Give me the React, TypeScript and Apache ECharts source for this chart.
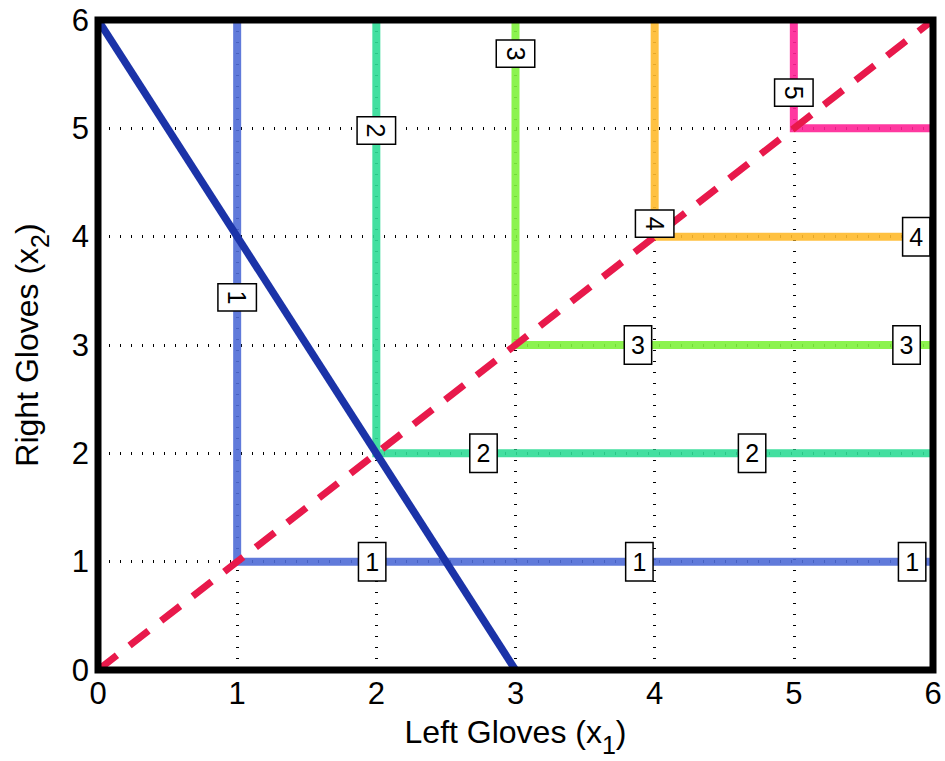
import React, { useEffect, useRef } from "react";
import * as echarts from "echarts";

const xTicks = [0, 1, 2, 3, 4, 5, 6];
const yTicks = [0, 1, 2, 3, 4, 5, 6];
const levels = [1, 2, 3, 4, 5];
const levelColors = ["#4f6bd6", "#2fdb96", "#7ff23c", "#ffba2c", "#ff2496"];
const budgetLine = [
  [0, 6],
  [3, 0],
];
const diagonalLine = [
  [0, 0],
  [6, 6],
];
// labels on the vertical arms: [x, y, text]
const verticalLabels: [number, number, string][] = [
  [1, 3.44, "1"],
  [2, 4.98, "2"],
  [3, 5.69, "3"],
  [4, 4.12, "4"],
  [5, 5.33, "5"],
];
// labels on the horizontal arms: [x, y, text]
const horizontalLabels: [number, number, string][] = [
  [1.97, 1, "1"],
  [3.89, 1, "1"],
  [5.85, 1, "1"],
  [2.77, 2, "2"],
  [4.7, 2, "2"],
  [3.88, 3, "3"],
  [5.81, 3, "3"],
  [5.88, 4, "4"],
];

const FONT = "'Liberation Sans', Arial, sans-serif";

export default function App() {
  const ref = useRef<HTMLDivElement>(null);
  useEffect(() => {
    if (!ref.current) return;
    const chart = echarts.init(ref.current, null, { renderer: "svg" });

    const contourSeries = levels.map((k, i) => ({
      type: "line",
      name: "level " + k,
      data: [
        [k, 6],
        [k, k],
        [6, k],
      ],
      symbol: "none",
      lineStyle: { color: levelColors[i], width: 8, opacity: 0.9, cap: "butt", join: "miter" },
      z: 3,
      silent: true,
    }));

    const labelData = [
      ...verticalLabels.map(([x, y, t]) => ({
        value: [x, y, t],
        label: { rotate: -90 },
      })),
      ...horizontalLabels.map(([x, y, t]) => ({
        value: [x, y, t],
        label: { rotate: 0 },
      })),
    ];

    const axisNameRich = {
      base: { fontSize: 32, fontFamily: FONT, color: "#000" },
      sub: { fontSize: 25, fontFamily: FONT, color: "#000", padding: [26, 0, 0, 0] },
    };

    const option = {
      animation: false,
      backgroundColor: "#fff",
      grid: {
        left: 98,
        top: 20,
        right: 12,
        bottom: 91,
        show: true,
        borderColor: "#000",
        borderWidth: 7,
        backgroundColor: "transparent",
        z: 10,
        containLabel: false,
        outerBoundsMode: "none",
      },
      xAxis: {
        type: "value",
        min: 0,
        max: 6,
        interval: 1,
        name: "{base|Left Gloves (x}{sub|1}{base|)}",
        nameLocation: "middle",
        nameGap: 36,
        nameTextStyle: { rich: axisNameRich },
        axisLine: { show: false },
        axisTick: { show: false },
        axisLabel: {
          fontSize: 31,
          fontFamily: FONT,
          color: "#000",
          margin: 8,
          formatter: (v: number) => (xTicks.includes(v) ? String(v) : ""),
        },
        splitLine: {
          show: true,
          lineStyle: { color: "#000", width: 3, type: [1, 10] },
        },
      },
      yAxis: {
        type: "value",
        min: 0,
        max: 6,
        interval: 1,
        name: "{base|Right Gloves (x}{sub|2}{base|)}",
        nameLocation: "middle",
        nameGap: 46,
        nameRotate: 90,
        nameTextStyle: { rich: axisNameRich },
        axisLine: { show: false },
        axisTick: { show: false },
        axisLabel: {
          fontSize: 31,
          fontFamily: FONT,
          color: "#000",
          margin: 9,
          formatter: (v: number) => (yTicks.includes(v) ? String(v) : ""),
        },
        splitLine: {
          show: true,
          lineStyle: { color: "#000", width: 3, type: [1, 10] },
        },
      },
      series: [
        ...contourSeries,
        {
          type: "line",
          name: "diagonal",
          data: diagonalLine,
          symbol: "none",
          lineStyle: { color: "#e8194b", width: 7, type: [24, 16], cap: "butt" },
          z: 4,
          silent: true,
        },
        {
          type: "line",
          name: "budget",
          data: budgetLine,
          symbol: "none",
          lineStyle: { color: "#1b33a8", width: 7.5 },
          z: 5,
          silent: true,
        },
        {
          type: "scatter",
          name: "labels",
          data: labelData,
          symbol: "circle",
          symbolSize: 0,
          itemStyle: { color: "#fff", opacity: 1 },
          z: 6,
          silent: true,
          label: {
            show: true,
            position: "inside",
            formatter: (p: any) => String(p.value[2]),
            fontSize: 25,
            fontFamily: FONT,
            color: "#000",
            opacity: 1,
            backgroundColor: "#fff",
            borderColor: "#000",
            borderWidth: 1.5,
            padding: [6, 6, 5, 6],
            lineHeight: 26,
          },
        },
      ],
    };
    chart.setOption(option as any);
    return () => chart.dispose();
  }, []);

  return (
    <div
      ref={ref}
      style={{ position: "fixed", left: 0, top: 0, width: 945, height: 761, background: "#fff" }}
    />
  );
}
